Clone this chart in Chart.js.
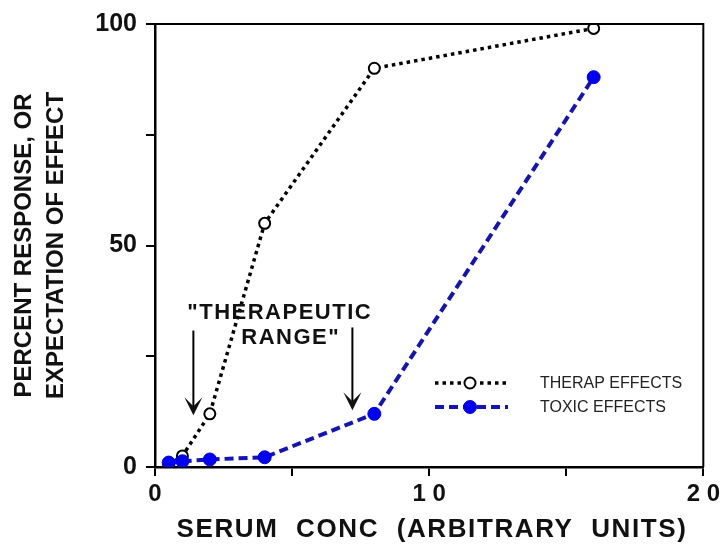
<!DOCTYPE html>
<html lang="en">
<head>
  <meta charset="UTF-8">
  <title>Serum conc vs response</title>
  <script src="https://cdn.jsdelivr.net/npm/chart.js"></script>
  <style>
    html, body { margin: 0; padding: 0; background: #ffffff; }
    .chart-wrap { width: 724px; height: 544px; position: relative; }
  </style>
</head>
<body>
  <div class="chart-wrap">
    <canvas id="chartConc"></canvas>
  </div>
  <script>
    // data
    const concX = [0.5, 1, 2, 4, 8, 16];
    const therapY = [0.5, 2.5, 12, 55, 90, 99];
    const toxicY = [1, 1.3, 1.7, 2.2, 12, 88];
    const seriesNames = ['THERAP EFFECTS', 'TOXIC EFFECTS'];
    const xTickLabels = { 0: '0', 10: '1 0', 20: '2 0' };
    const yTickLabels = { 0: '0', 50: '50', 100: '100' };

    const FONT = 'Arial, "Liberation Sans", sans-serif';
    const BLUE_LINE = '#1414b4';
    const BLUE_DOT = '#0000f0';

    const toPoints = (xs, ys) => xs.map((x, i) => ({ x: x, y: ys[i] }));

    // arrows + "THERAPEUTIC RANGE" text, frame, legend, x title
    const extrasPlugin = {
      id: 'extras',
      afterDraw(chart) {
        const { ctx, chartArea: a, scales: { x, y } } = chart;
        ctx.save();

        // box frame (top + right)
        ctx.strokeStyle = '#000';
        ctx.lineWidth = 2;
        ctx.beginPath();
        ctx.moveTo(a.left, a.top);
        ctx.lineTo(a.right, a.top);
        ctx.lineTo(a.right, a.bottom);
        ctx.stroke();

        // annotation text
        ctx.fillStyle = '#111';
        ctx.textAlign = 'center';
        ctx.textBaseline = 'middle';
        ctx.font = 'bold 22px ' + FONT;
        ctx.letterSpacing = '1.5px';
        ctx.fillText('"THERAPEUTIC', x.getPixelForValue(4.55), y.getPixelForValue(34.8));
        ctx.fillText('RANGE"', x.getPixelForValue(4.95), y.getPixelForValue(29.2));

        // arrows
        const arrow = (xv, y0, y1) => {
          const px = x.getPixelForValue(xv);
          const top = y.getPixelForValue(y0);
          const tip = y.getPixelForValue(y1);
          ctx.lineWidth = 2;
          ctx.beginPath();
          ctx.moveTo(px, top);
          ctx.lineTo(px, tip - 8);
          ctx.stroke();
          ctx.beginPath();
          ctx.moveTo(px - 9, tip - 18);
          ctx.lineTo(px, tip - 9);
          ctx.lineTo(px + 9, tip - 18);
          ctx.lineTo(px, tip);
          ctx.closePath();
          ctx.fill();
        };
        arrow(1.4, 30.8, 11.7);
        arrow(7.2, 31.5, 12.8);

        // legend
        ctx.letterSpacing = '0px';
        chart.data.datasets.forEach((ds, i) => {
          const ly = 383 + i * 24;
          ctx.strokeStyle = ds.borderColor;
          ctx.lineWidth = ds.borderWidth;
          ctx.setLineDash(ds.borderDash);
          ctx.beginPath();
          ctx.moveTo(435, ly);
          ctx.lineTo(508, ly);
          ctx.stroke();
          ctx.setLineDash([]);
          ctx.beginPath();
          ctx.arc(470, ly, ds.pointRadius, 0, Math.PI * 2);
          ctx.fillStyle = ds.pointBackgroundColor;
          ctx.fill();
          ctx.lineWidth = ds.pointBorderWidth;
          ctx.strokeStyle = ds.pointBorderColor;
          ctx.stroke();
          ctx.fillStyle = '#222';
          ctx.textAlign = 'left';
          ctx.font = '16px ' + FONT;
          ctx.fillText(ds.label, 540, ly + 1);
        });

        // x axis title
        ctx.fillStyle = '#111';
        ctx.textAlign = 'center';
        ctx.font = 'bold 26px ' + FONT;
        ctx.letterSpacing = '1.6px';
        ctx.fillText('SERUM  CONC  (ARBITRARY  UNITS)', 432, 530);

        ctx.restore();
      }
    };

    const ctxConc = document.getElementById('chartConc');
    const DataConc = {
      type: 'scatter',
      data: {
        datasets: [{
          label: seriesNames[0],
          data: toPoints(concX, therapY),
          showLine: true,
          borderColor: '#000',
          borderWidth: 3.5,
          borderDash: [3.5, 4],
          pointRadius: 5.5,
          pointBackgroundColor: '#fff',
          pointBorderColor: '#000',
          pointBorderWidth: 2,
          order: 2
        }, {
          label: seriesNames[1],
          data: toPoints(concX, toxicY),
          showLine: true,
          borderColor: BLUE_LINE,
          borderWidth: 4,
          borderDash: [9, 5],
          pointRadius: 6.5,
          pointBackgroundColor: BLUE_DOT,
          pointBorderColor: BLUE_DOT,
          pointBorderWidth: 1,
          order: 1
        }]
      },
      options: {
        responsive: true,
        maintainAspectRatio: false,
        animation: false,
        layout: { padding: { left: 0, top: 21, right: 17, bottom: 0 } },
        scales: {
          x: {
            type: 'linear',
            min: 0,
            max: 20,
            afterFit(scale) { scale.height = 77; },
            ticks: {
              stepSize: 5,
              autoSkip: false,
              maxRotation: 0,
              color: '#111',
              padding: 4,
              font: { family: FONT, size: 24, weight: 'bold' },
              callback: (v) => (xTickLabels[v] !== undefined ? xTickLabels[v] : '')
            },
            grid: { drawOnChartArea: false, color: '#000', lineWidth: 2, tickLength: 9 },
            border: { color: '#000', width: 2.5 }
          },
          y: {
            min: 0,
            max: 100,
            afterFit(scale) { scale.width = 155; },
            ticks: {
              stepSize: 25,
              autoSkip: false,
              color: '#111',
              padding: 9,
              font: { family: FONT, size: 25, weight: 'bold' },
              callback: (v) => (yTickLabels[v] !== undefined ? yTickLabels[v] : '')
            },
            grid: { drawOnChartArea: false, color: '#000', lineWidth: 2, tickLength: 9 },
            border: { color: '#000', width: 2.5 },
            title: {
              display: true,
              text: ['PERCENT RESPONSE, OR', 'EXPECTATION OF EFFECT'],
              color: '#111',
              padding: { top: 8 },
              font: { family: FONT, size: 24, weight: 'bold', lineHeight: 1.35 }
            }
          }
        },
        plugins: {
          legend: { display: false },
          tooltip: { enabled: false }
        }
      },
      plugins: [extrasPlugin]
    };
    const concChart = new Chart(ctxConc, DataConc);
  </script>
</body>
</html>
